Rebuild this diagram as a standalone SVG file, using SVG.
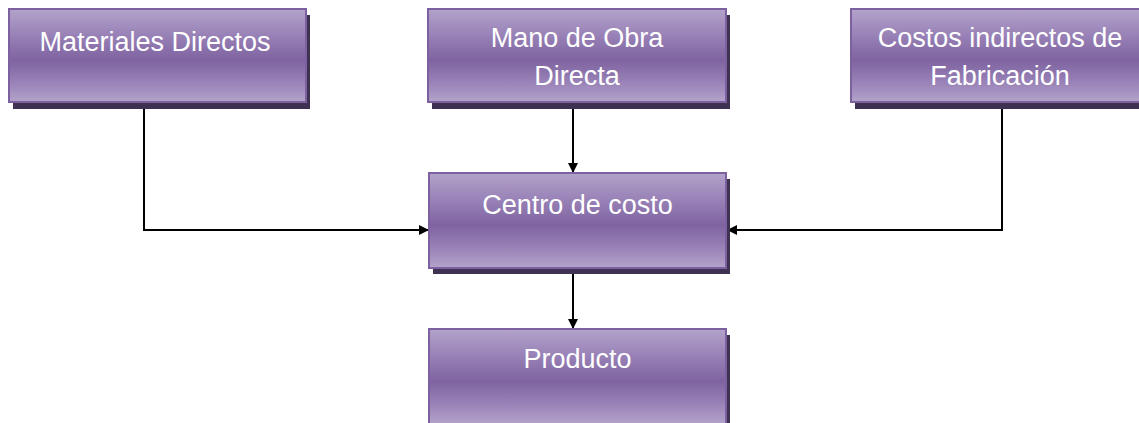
<svg xmlns="http://www.w3.org/2000/svg" width="1139" height="423" viewBox="0 0 1139 423">
<defs>
<linearGradient id="g" x1="0" y1="0" x2="0" y2="1">
<stop offset="0" stop-color="#b3a3ca"/>
<stop offset="0.2" stop-color="#a08bbd"/>
<stop offset="0.55" stop-color="#7f63a1"/>
<stop offset="0.8" stop-color="#9a84b8"/>
<stop offset="1" stop-color="#b3a3ca"/>
</linearGradient>
<marker id="ah" markerUnits="userSpaceOnUse" markerWidth="10" markerHeight="10" viewBox="0 0 10 10" refX="10" refY="5" orient="auto">
<path d="M0,0 L10,5 L0,10 Z" fill="#000"/>
</marker>
<style>
.sh{fill:#3f3151}
.bx{fill:url(#g);stroke:#7c60a0;stroke-width:2}
.t{font-family:"Liberation Sans",Arial,sans-serif;font-size:27px;fill:#ffffff;text-anchor:middle}
.c{fill:none;stroke:#000;stroke-width:2}
</style>
</defs>
<g id="connectors">
<path class="c" d="M144,103 V230 H429" marker-end="url(#ah)"/>
<path class="c" d="M1002,103 V230 H727" marker-end="url(#ah)"/>
<path class="c" d="M573,103 V173" marker-end="url(#ah)"/>
<path class="c" d="M573,268 V329" marker-end="url(#ah)"/>
</g>
<g id="materiales">
<rect class="sh" x="13" y="15" width="297" height="94"/>
<rect class="bx" x="9" y="9" width="297" height="93"/>
<text class="t" x="155" y="51">Materiales Directos</text>
</g>
<g id="mano">
<rect class="sh" x="432" y="15" width="298" height="94"/>
<rect class="bx" x="428" y="9" width="298" height="93"/>
<text class="t" x="577" y="47">Mano de Obra</text>
<text class="t" x="577" y="85">Directa</text>
</g>
<g id="costos">
<rect class="sh" x="855" y="15" width="290" height="94"/>
<rect class="bx" x="851" y="9" width="290" height="93"/>
<text class="t" x="1000" y="47">Costos indirectos de</text>
<text class="t" x="1000" y="85">Fabricación</text>
</g>
<g id="centro">
<rect class="sh" x="433" y="179" width="297" height="95"/>
<rect class="bx" x="429" y="173" width="297" height="95"/>
<text class="t" x="577.5" y="214">Centro de costo</text>
</g>
<g id="producto">
<rect class="sh" x="433" y="335" width="297" height="95"/>
<rect class="bx" x="429" y="329" width="297" height="95"/>
<text class="t" x="577.5" y="368">Producto</text>
</g>
</svg>
